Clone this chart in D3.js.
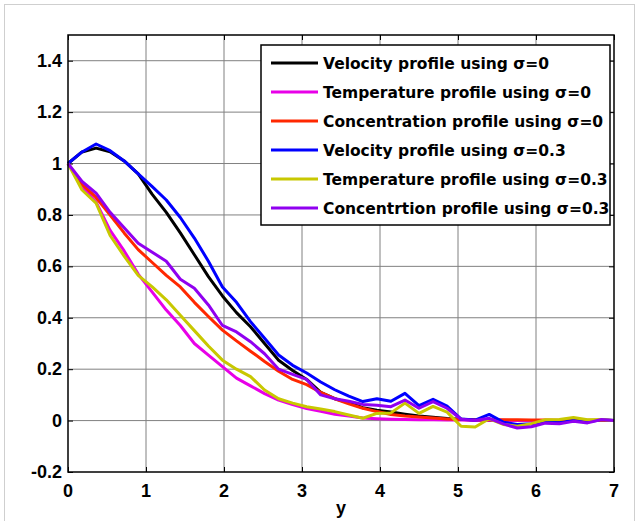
<!DOCTYPE html>
<meta charset="utf-8">
<head>
<style>
  body { margin: 0; background: #fff; }
  svg { display: block; }
</style>
</head>
<script src="https://d3js.org/d3.v7.min.js"></script>
<div id="my_dataviz"></div>
<script>

// sample points along y
var xs = [0, 0.18, 0.36, 0.54, 0.72, 0.90, 1.08, 1.26, 1.44, 1.62, 1.80, 1.98, 2.16, 2.34, 2.52, 2.70, 2.88, 3.06, 3.24, 3.42,
          3.60, 3.78, 3.96, 4.14, 4.32, 4.50, 4.68, 4.86, 5.04, 5.22, 5.40, 5.58, 5.76, 5.94, 6.12, 6.30, 6.48, 6.66, 6.84, 7.00];

var velocity0 = [1.0, 1.045, 1.06, 1.046, 1.01, 0.96, 0.88, 0.81, 0.73, 0.645, 0.56, 0.485, 0.42, 0.365, 0.30, 0.235, 0.195, 0.16, 0.11, 0.085,
                 0.07, 0.05, 0.04, 0.033, 0.025, 0.018, 0.013, 0.008, 0.005, 0.002, 0.001, 0.0, 0.0, 0.0, 0.0, 0.0, 0.0, 0.0, 0.0, 0.0];
var temperature0 = [1.0, 0.91, 0.85, 0.74, 0.66, 0.57, 0.50, 0.43, 0.37, 0.30, 0.255, 0.21, 0.165, 0.135, 0.105, 0.08, 0.062, 0.047, 0.036, 0.025,
                    0.018, 0.01, 0.007, 0.005, 0.004, 0.003, 0.003, 0.002, 0.002, 0.001, 0.001, 0.001, 0.0, 0.0, 0.0, 0.0, 0.0, 0.0, 0.0, 0.0];
var concentration0 = [1.0, 0.92, 0.868, 0.80, 0.73, 0.665, 0.615, 0.565, 0.52, 0.46, 0.405, 0.352, 0.31, 0.27, 0.23, 0.192, 0.16, 0.14, 0.11, 0.085,
                      0.065, 0.048, 0.035, 0.024, 0.018, 0.014, 0.01, 0.006, 0.004, 0.003, 0.003, 0.003, 0.003, 0.002, 0.002, 0.001, 0.001, 0.001, 0.0, 0.0];
var velocity03 = [1.0, 1.045, 1.076, 1.05, 1.01, 0.96, 0.91, 0.858, 0.79, 0.71, 0.62, 0.52, 0.46, 0.385, 0.32, 0.255, 0.215, 0.185, 0.15, 0.12,
                  0.095, 0.074, 0.085, 0.075, 0.106, 0.058, 0.083, 0.056, 0.006, 0.002, 0.024, -0.006, -0.015, -0.012, -0.005, -0.008, 0.0, -0.006, 0.004, 0.0];
var temperature03 = [1.0, 0.897, 0.846, 0.72, 0.64, 0.565, 0.52, 0.47, 0.41, 0.35, 0.29, 0.235, 0.20, 0.171, 0.119, 0.085, 0.068, 0.054, 0.045, 0.035,
                     0.022, 0.009, 0.028, 0.03, 0.068, 0.028, 0.055, 0.033, -0.022, -0.025, 0.007, -0.015, -0.022, -0.012, 0.003, 0.004, 0.012, 0.003, 0.004, 0.0];
var concentration03 = [1.0, 0.93, 0.885, 0.81, 0.75, 0.69, 0.655, 0.62, 0.55, 0.515, 0.45, 0.37, 0.345, 0.307, 0.26, 0.20, 0.18, 0.16, 0.10, 0.085,
                       0.075, 0.063, 0.06, 0.054, 0.08, 0.048, 0.074, 0.048, 0.005, 0.0, 0.009, -0.013, -0.029, -0.024, -0.01, -0.012, -0.003, -0.009, 0.004, 0.0];

var seriesNames = ["Velocity profile using \u03c3=0", "Temperature profile using \u03c3=0", "Concentration profile using \u03c3=0",
                   "Velocity profile using \u03c3=0.3", "Temperature profile using \u03c3=0.3", "Concentrtion profile using \u03c3=0.3"];
var seriesColors = ["#000000", "#e800e8", "#ff2800", "#0000ff", "#c8c800", "#9000f0"];
var seriesValues = [velocity0, temperature0, concentration0, velocity03, temperature03, concentration03];

var xTicks = [0, 1, 2, 3, 4, 5, 6, 7];
var yTicks = [-0.2, 0, 0.2, 0.4, 0.6, 0.8, 1, 1.2, 1.4];
var yTickLabels = ["-0.2", "0", "0.2", "0.4", "0.6", "0.8", "1", "1.2", "1.4"];

var width = 639, height = 521;
var margin = {top: 35, right: 25, bottom: 49, left: 68};

var svg = d3.select("#my_dataviz").append("svg")
    .attr("width", width)
    .attr("height", height);

// figure frame
svg.append("rect")
    .attr("x", 4.5).attr("y", 4.5)
    .attr("width", 630).attr("height", 530)
    .attr("fill", "none")
    .attr("stroke", "#cfcfcf");

var x = d3.scaleLinear().domain([0, 7]).range([margin.left, width - margin.right]);
var y = d3.scaleLinear().domain([-0.2, 1.5]).range([height - margin.bottom, margin.top]);

// grid
svg.append("g").selectAll("line").data(xTicks.slice(1, -1)).join("line")
    .attr("x1", d => x(d)).attr("x2", d => x(d))
    .attr("y1", y(1.5)).attr("y2", y(-0.2))
    .attr("stroke", "#808080").attr("stroke-width", 1);
svg.append("g").selectAll("line").data(yTicks.slice(1)).join("line")
    .attr("x1", x(0)).attr("x2", x(7))
    .attr("y1", d => y(d)).attr("y2", d => y(d))
    .attr("stroke", "#808080").attr("stroke-width", 1);

// axes, ticks pointing inward on all four sides
var tickFont = "'Liberation Sans', Arial, sans-serif";
svg.append("g")
    .attr("transform", "translate(0," + y(-0.2) + ")")
    .call(d3.axisTop(x).tickValues(xTicks).tickSize(5).tickFormat(""))
    .call(g => g.select(".domain").remove());
svg.append("g")
    .attr("transform", "translate(0," + y(1.5) + ")")
    .call(d3.axisBottom(x).tickValues(xTicks).tickSize(5).tickFormat(""))
    .call(g => g.select(".domain").remove());
svg.append("g")
    .attr("transform", "translate(" + x(0) + ",0)")
    .call(d3.axisRight(y).tickValues(yTicks).tickSize(5).tickFormat(""))
    .call(g => g.select(".domain").remove());
svg.append("g")
    .attr("transform", "translate(" + x(7) + ",0)")
    .call(d3.axisLeft(y).tickValues(yTicks).tickSize(5).tickFormat(""))
    .call(g => g.select(".domain").remove());

svg.append("g").selectAll("text").data(xTicks).join("text")
    .attr("x", d => x(d)).attr("y", y(-0.2) + 25)
    .attr("text-anchor", "middle")
    .style("font", "bold 18px " + tickFont)
    .text(d => d);
svg.append("g").selectAll("text").data(yTicks).join("text")
    .attr("x", x(0) - 6).attr("y", d => y(d) + 6)
    .attr("text-anchor", "end")
    .style("font", "bold 18px " + tickFont)
    .text((d, i) => yTickLabels[i]);

svg.append("text")
    .attr("x", (x(0) + x(7)) / 2).attr("y", 514)
    .attr("text-anchor", "middle")
    .style("font", "bold 18px " + tickFont)
    .text("y");

// profiles
var line = d3.line().x((d, i) => x(xs[i])).y(d => y(d));
svg.append("g").selectAll("path").data(seriesValues).join("path")
    .attr("d", d => line(d))
    .attr("fill", "none")
    .attr("stroke", (d, i) => seriesColors[i])
    .attr("stroke-width", 3)
    .attr("stroke-linejoin", "round");

svg.append("rect")
    .attr("x", x(0)).attr("y", y(1.5))
    .attr("width", x(7) - x(0)).attr("height", y(-0.2) - y(1.5))
    .attr("fill", "none").attr("stroke", "#000").attr("stroke-width", 1.5);

// legend
var legend = svg.append("g").attr("transform", "translate(261,45)");
legend.append("rect")
    .attr("width", 349).attr("height", 180)
    .attr("fill", "#fff").attr("stroke", "#000").attr("stroke-width", 1.5);
var rows = legend.selectAll("g").data(seriesNames).join("g")
    .attr("transform", (d, i) => "translate(0," + (18 + i * 29) + ")");
rows.append("line")
    .attr("x1", 10).attr("x2", 57)
    .attr("stroke", (d, i) => seriesColors[i])
    .attr("stroke-width", 3);
rows.append("text")
    .attr("x", 62).attr("y", 6)
    .style("font", "bold 15.5px 'DejaVu Sans', sans-serif")
    .text(d => d);

</script>
